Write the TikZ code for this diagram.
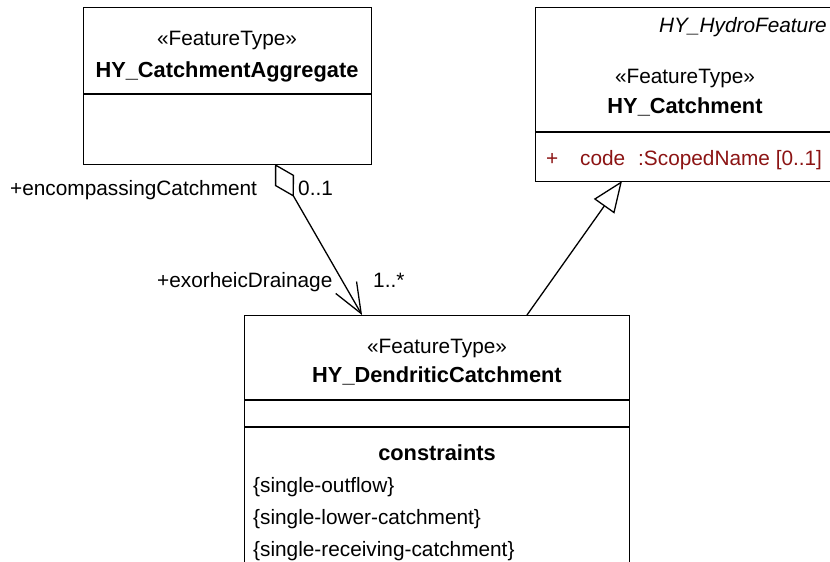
\documentclass[tikz,border=0pt]{standalone}
\usepackage{fontspec}
\setmainfont{Liberation Sans}
\usetikzlibrary{arrows.meta}

\tikzset{
  classbox/.style={draw=linecolor, line width=1.4pt, fill=white, rectangle, inner sep=0pt, anchor=north west},
  compline/.style={draw=linecolor, line width=1.4pt},
  txt/.style={inner sep=0pt, anchor=base, font=\fontsize{20.8}{25}\selectfont},
  classname/.style={inner sep=0pt, anchor=base, font=\fontsize{21.8}{25}\selectfont\bfseries},
  attr/.style={txt, anchor=base west, text=attrcolor},
  assoc/.style={draw=linecolor, line width=1.3pt, arrows={Diamond[open,length=38pt,width=22pt]-Straight Barb[length=30pt,width=24pt]}},
  generalize/.style={draw=linecolor, line width=1.3pt, arrows={-Triangle[open,length=31pt,width=25pt]}}
}

\begin{document}
\begin{tikzpicture}[x=1pt,y=-1pt]
\definecolor{linecolor}{RGB}{0,0,0}
\definecolor{attrcolor}{RGB}{140,20,20}
\useasboundingbox (0,0) rectangle (830,562);
% class boxes
\node[classbox, minimum width=288pt, minimum height=157pt] (aggbox) at (83,7) {};
\node[classbox, minimum width=300pt, minimum height=174pt] (catbox) at (535,7) {};
\node[classbox, minimum width=385pt, minimum height=280pt] (denbox) at (244,315) {};
% compartments
\draw[compline] (83,94) -- (371,94);
\draw[compline] (535,132) -- (835,132);
\draw[compline] (244,400) -- (629,400);
\draw[compline] (244,427) -- (629,427);
% HY_CatchmentAggregate
\node[txt] (aggstereo) at (227,45) {«FeatureType»};
\node[classname] (aggname) at (227,77) {HY\_CatchmentAggregate};
% HY_Catchment
\node[txt, anchor=base east, font=\fontsize{20.8}{25}\selectfont\itshape] (catparent) at (827,32) {HY\_HydroFeature};
\node[txt] (catstereo) at (685,83) {«FeatureType»};
\node[classname] (catname) at (685,113) {HY\_Catchment};
\node[attr] (catplus) at (546,165) {+};
\node[attr] (catcode) at (580,165) {code};
\node[attr] (cattype) at (638,165) {:ScopedName [0..1]};
% HY_DendriticCatchment
\node[txt] (denstereo) at (437,353) {«FeatureType»};
\node[classname] (denname) at (437,382) {HY\_DendriticCatchment};
\node[classname] (constr) at (437,460) {constraints};
\node[txt, anchor=base west] (constrA) at (253,492) {\{single-outflow\}};
\node[txt, anchor=base west] (constrB) at (253,524) {\{single-lower-catchment\}};
\node[txt, anchor=base west] (constrC) at (253,556) {\{single-receiving-catchment\}};
% connectors
\coordinate (aggend) at (275,164);
\coordinate (denagg) at (362,315);
\coordinate (dengen) at (527,315);
\coordinate (catgen) at (622,181);
\draw[assoc] (aggend) -- (denagg);
\draw[generalize] (dengen) -- (catgen);
% role names and multiplicities
\node[txt, anchor=base west] (rolewhole) at (10,195) {+encompassingCatchment};
\node[txt, anchor=base west] (multwhole) at (298,195) {0..1};
\node[txt, anchor=base west] (rolepart) at (157,287) {+exorheicDrainage};
\node[txt, anchor=base west] (multpart) at (373,287) {1..*};
\end{tikzpicture}
\end{document}
